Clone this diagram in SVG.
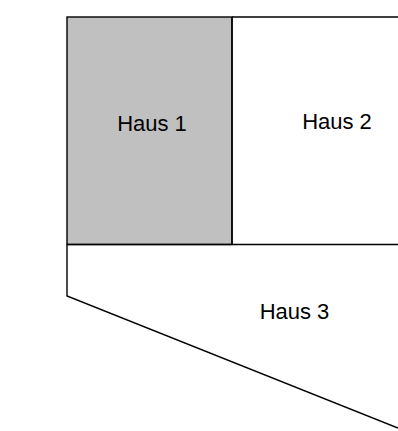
<svg xmlns="http://www.w3.org/2000/svg" width="398" height="431" viewBox="0 0 398 431">
<style>
.ln{stroke:#000;stroke-width:1.4;fill:none}
.t{font-family:"Liberation Sans",Arial,sans-serif;font-size:22px;fill:#000}
</style>
<rect width="398" height="431" fill="#fff"/>
<g id="haus1">
<rect x="67" y="17" width="165" height="227.5" fill="#c0c0c0" class="ln" style="fill:#c0c0c0"/>
<text class="t" x="152" y="131" text-anchor="middle">Haus 1</text>
</g>
<g id="haus2">
<path class="ln" d="M232 17 H398 M232 17 V244.5"/>
<text class="t" x="337" y="129" text-anchor="middle">Haus 2</text>
</g>
<g id="haus3">
<path class="ln" d="M67 244.5 H398 M67 244.5 V296 L398 428"/>
<text class="t" x="294.5" y="318.5" text-anchor="middle">Haus 3</text>
</g>
</svg>
